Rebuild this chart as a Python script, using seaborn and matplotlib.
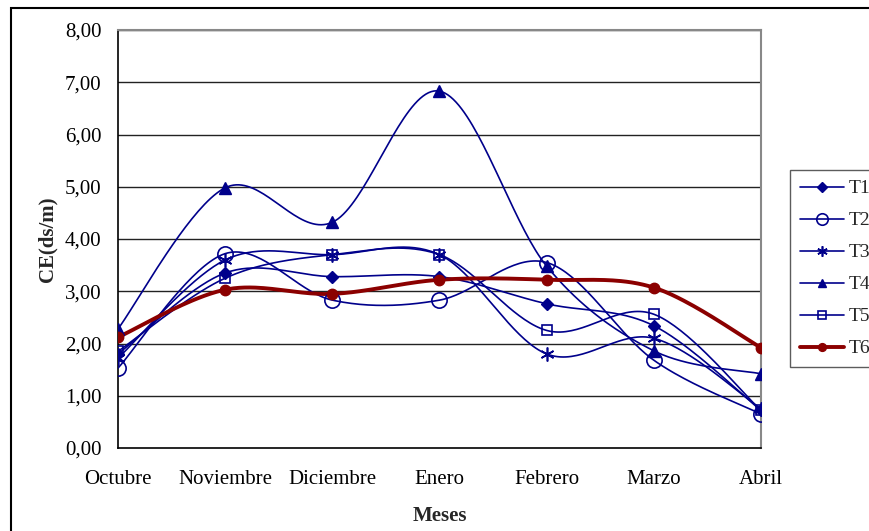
import numpy as np
import pandas as pd
import matplotlib
matplotlib.use("Agg")
import matplotlib.pyplot as plt
from matplotlib.lines import Line2D
from matplotlib.patches import Rectangle
import seaborn as sns

# Monthly electrical conductivity per treatment
meses = ["Octubre", "Noviembre", "Diciembre", "Enero", "Febrero", "Marzo", "Abril"]
T1 = [1.80, 3.35, 3.28, 3.28, 2.76, 2.34, 0.72]
T2 = [1.53, 3.72, 2.83, 2.83, 3.55, 1.68, 0.65]
T3 = [1.72, 3.60, 3.70, 3.70, 1.80, 2.10, 0.75]
T4 = [2.28, 4.98, 4.32, 6.83, 3.48, 1.86, 1.42]
T5 = [1.85, 3.25, 3.70, 3.70, 2.25, 2.56, 0.72]
T6 = [2.12, 3.03, 2.95, 3.22, 3.22, 3.07, 1.92]
series_names = ["T1", "T2", "T3", "T4", "T5", "T6"]
yticks = [0, 1, 2, 3, 4, 5, 6, 7, 8]

navy = "#00008B"
maroon = "#8B0000"
styles = {
    "T1": dict(color=navy, lw=1.2, marker="D", ms=6.5, mfc=navy, mec=navy),
    "T2": dict(color=navy, lw=1.2, marker="o", ms=11, mfc="none", mec=navy, mew=1.2),
    "T3": dict(color=navy, lw=1.2, marker=(6, 2, 0), ms=10, mfc=navy, mec=navy, mew=1.2),
    "T4": dict(color=navy, lw=1.2, marker="^", ms=8.5, mfc=navy, mec=navy),
    "T5": dict(color=navy, lw=1.2, marker="s", ms=7, mfc="none", mec=navy, mew=1.2),
    "T6": dict(color=maroon, lw=2.8, marker="o", ms=7.5, mfc=maroon, mec=maroon),
}


def smooth(x, y, n=40):
    """Bezier smoothing with control points P1 +/- (P2 - P0) / 6."""
    x = np.asarray(x, float)
    y = np.asarray(y, float)
    px = np.concatenate([[x[0]], x, [x[-1]]])
    py = np.concatenate([[y[0]], y, [y[-1]]])
    xs, ys = [], []
    t = np.linspace(0, 1, n)
    for i in range(1, len(px) - 2):
        p0 = np.array([px[i], py[i]])
        p3 = np.array([px[i + 1], py[i + 1]])
        c1 = p0 + (np.array([px[i + 1], py[i + 1]]) - np.array([px[i - 1], py[i - 1]])) / 6
        c2 = p3 - (np.array([px[i + 2], py[i + 2]]) - np.array([px[i], py[i]])) / 6
        b = ((1 - t) ** 3)[:, None] * p0 + (3 * (1 - t) ** 2 * t)[:, None] * c1 \
            + (3 * (1 - t) * t ** 2)[:, None] * c2 + (t ** 3)[:, None] * p3
        if i > 1:
            b = b[1:]
        xs.append(b[:, 0])
        ys.append(b[:, 1])
    return np.concatenate(xs), np.concatenate(ys)


sns.set_theme(style="white")
plt.rcParams["font.family"] = ["Liberation Serif", "DejaVu Serif"]

fig = plt.figure(figsize=(8.7, 5.31), dpi=100)
ax = fig.add_axes([118 / 870, 1 - 448 / 531, (761 - 118) / 870, (448 - 30) / 531])

xpos = np.arange(len(meses))
data = dict(zip(series_names, [T1, T2, T3, T4, T5, T6]))

handles = []
for name in series_names:
    st = styles[name]
    sx, sy = smooth(xpos, data[name])
    curve = pd.DataFrame({"x": sx, "y": sy})
    sns.lineplot(data=curve, x="x", y="y", ax=ax, sort=False, estimator=None,
                 color=st["color"], lw=st["lw"], zorder=3)
    ax.plot(xpos, data[name], ls="none", marker=st["marker"], ms=st["ms"],
            mfc=st["mfc"], mec=st["mec"], mew=st.get("mew", 1.0), zorder=4)
    handles.append(Line2D([0], [0], color=st["color"], lw=st["lw"], marker=st["marker"],
                          ms=st["ms"] * 0.75, mfc=st["mfc"], mec=st["mec"],
                          mew=st.get("mew", 1.0)))

ax.set_xlim(0, len(meses) - 1)
ax.set_ylim(0, 8)
ax.set_xticks(xpos)
ax.set_xticklabels(meses)
ax.set_yticks(yticks)
ax.set_yticklabels([f"{v:.2f}".replace(".", ",") for v in yticks])
for v in yticks[1:]:
    ax.axhline(v, color="#222222", lw=1.0, zorder=1)

ax.tick_params(axis="both", labelsize=15, colors="black", direction="inout",
               length=12, width=1.0)
ax.tick_params(axis="x", pad=10)
ax.tick_params(axis="y", pad=6)
ax.set_xlabel("Meses", fontsize=15, fontweight="bold", labelpad=12)
ax.set_ylabel("CE(ds/m)", fontsize=15, fontweight="bold", labelpad=5)

for side in ["left", "bottom"]:
    ax.spines[side].set_color("black")
    ax.spines[side].set_linewidth(1.2)
for side in ["right", "top"]:
    ax.spines[side].set_color("#888888")
    ax.spines[side].set_linewidth(1.5)

leg = fig.legend(handles, series_names, loc="upper left",
                 bbox_to_anchor=(790 / 870, 1 - 170 / 531), bbox_transform=fig.transFigure,
                 fontsize=14, frameon=True, fancybox=False, edgecolor="#333333",
                 handlelength=2.3, handletextpad=0.2, labelspacing=0.74,
                 borderaxespad=0, borderpad=0.5)
leg.get_frame().set_linewidth(1.0)

fig.patches.append(Rectangle((11 / 870, -0.1), 1.2, 1 - 8 / 531 + 0.1, transform=fig.transFigure,
                             fill=False, edgecolor="black", lw=1.5, clip_on=False))

fig.savefig("out.png", dpi=100)
